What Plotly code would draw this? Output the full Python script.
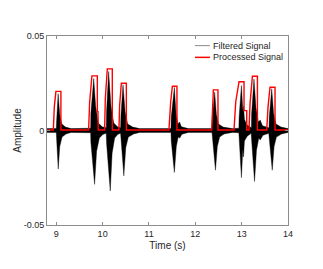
import plotly.graph_objects as go

# Filtered signal: upper and lower envelope of the dense oscillation
hi_t = [8.800,
        9.000, 9.005, 9.040, 9.075, 9.120, 9.200, 9.320,
        9.742, 9.746, 9.808, 9.850, 9.905, 9.990, 10.078,
        10.080, 10.085, 10.130, 10.180, 10.240, 10.320, 10.388,
        10.390, 10.395, 10.440, 10.485, 10.540, 10.650, 10.800,
        11.475, 11.480, 11.548, 11.585, 11.625, 11.660, 11.700, 11.850,
        12.360, 12.365, 12.418, 12.455, 12.500, 12.600, 12.800,
        12.940, 12.945, 12.995, 13.025, 13.040, 13.060, 13.110, 13.205,
        13.210, 13.215, 13.266, 13.310, 13.360, 13.400, 13.450, 13.585,
        13.590, 13.595, 13.649, 13.690, 13.740, 13.850, 14.000]
hi_v = [0.0010,
        0.0010, 0.0040, 0.0195, 0.0085, 0.0035, 0.0018, 0.0010,
        0.0012, 0.0090, 0.0275, 0.0130, 0.0040, 0.0020, 0.0015,
        0.0015, 0.0100, 0.0312, 0.0130, 0.0040, 0.0020, 0.0015,
        0.0015, 0.0080, 0.0242, 0.0100, 0.0035, 0.0018, 0.0010,
        0.0010, 0.0070, 0.0228, 0.0090, 0.0035, 0.0045, 0.0020, 0.0010,
        0.0010, 0.0065, 0.0203, 0.0085, 0.0035, 0.0018, 0.0010,
        0.0012, 0.0070, 0.0238, 0.0110, 0.0130, 0.0060, 0.0030, 0.0015,
        0.0015, 0.0090, 0.0272, 0.0120, 0.0045, 0.0055, 0.0025, 0.0015,
        0.0015, 0.0070, 0.0221, 0.0090, 0.0035, 0.0018, 0.0010]
lo_t = [8.800,
        9.000, 9.008, 9.042, 9.075, 9.125, 9.210, 9.320,
        9.742, 9.746, 9.827, 9.870, 9.930, 10.010, 10.078,
        10.080, 10.086, 10.165, 10.205, 10.260, 10.330, 10.388,
        10.390, 10.396, 10.458, 10.500, 10.555, 10.670, 10.800,
        11.475, 11.481, 11.548, 11.590, 11.630, 11.665, 11.710, 11.850,
        12.360, 12.366, 12.435, 12.475, 12.525, 12.620, 12.800,
        12.940, 12.946, 12.995, 13.025, 13.040, 13.060, 13.120, 13.205,
        13.210, 13.216, 13.278, 13.320, 13.370, 13.400, 13.460, 13.585,
        13.590, 13.596, 13.660, 13.700, 13.750, 13.860, 14.000]
lo_v = [-0.0010,
        -0.0010, -0.0045, -0.0204, -0.0085, -0.0035, -0.0018, -0.0010,
        -0.0012, -0.0060, -0.0285, -0.0110, -0.0040, -0.0020, -0.0015,
        -0.0015, -0.0070, -0.0320, -0.0120, -0.0040, -0.0020, -0.0015,
        -0.0015, -0.0060, -0.0240, -0.0090, -0.0035, -0.0018, -0.0010,
        -0.0010, -0.0055, -0.0222, -0.0085, -0.0035, -0.0040, -0.0020, -0.0010,
        -0.0010, -0.0050, -0.0210, -0.0085, -0.0035, -0.0018, -0.0010,
        -0.0012, -0.0055, -0.0250, -0.0100, -0.0140, -0.0055, -0.0030, -0.0015,
        -0.0015, -0.0065, -0.0270, -0.0105, -0.0040, -0.0050, -0.0025, -0.0015,
        -0.0015, -0.0055, -0.0210, -0.0085, -0.0035, -0.0018, -0.0010]

# Processed signal (red pulses)
proc_t = [8.800, 8.936, 8.958, 8.992, 9.100, 9.100,
          9.698, 9.720, 9.769, 9.886, 9.886, 9.900, 9.905,
          10.043, 10.058, 10.101, 10.209, 10.209,
          10.352, 10.367, 10.404, 10.512, 10.512,
          11.431, 11.468, 11.505, 11.604, 11.604,
          12.353, 12.368, 12.390, 12.489, 12.489,
          12.835, 12.872, 12.943, 13.051, 13.051, 13.109, 13.109,
          13.159, 13.181, 13.232, 13.340, 13.340,
          13.541, 13.569, 13.612, 13.720, 13.720, 14.000]
proc_v = [0.0003, 0.0003, 0.0125, 0.0207, 0.0207, 0.0003,
          0.0003, 0.0149, 0.0289, 0.0289, 0.0100, 0.0100, 0.0003,
          0.0003, 0.0167, 0.0326, 0.0326, 0.0003,
          0.0003, 0.0132, 0.0250, 0.0250, 0.0003,
          0.0003, 0.0151, 0.0234, 0.0234, 0.0003,
          0.0003, 0.0125, 0.0215, 0.0215, 0.0003,
          0.0003, 0.0151, 0.0258, 0.0258, 0.0105, 0.0105, 0.0003,
          0.0003, 0.0142, 0.0287, 0.0287, 0.0003,
          0.0003, 0.0125, 0.0229, 0.0229, 0.0003, 0.0003]

series_names = ["Filtered Signal", "Processed Signal"]
x_ticks = [9, 10, 11, 12, 13, 14]
y_ticks = [-0.05, 0, 0.05]
y_ticktext = ["-0.05", "0", "0.05"]

FONT = "Liberation Sans, Arial, sans-serif"
AX = "#8c8c8c"
TXT = "#262626"
SIG = "#000000"
PROC = "#ff0000"

fig = go.Figure()
fig.add_trace(go.Scatter(
    x=hi_t + lo_t[::-1], y=hi_v + lo_v[::-1],
    mode="lines", fill="toself", fillcolor=SIG, name=series_names[0],
    line=dict(color=SIG, width=0.4),
    showlegend=False, hoverinfo="skip"))
fig.add_trace(go.Scatter(
    x=proc_t, y=proc_v, mode="lines", name=series_names[1],
    line=dict(color=PROC, width=1.4), showlegend=False))

axis_common = dict(
    showline=True, linecolor=AX, linewidth=1, mirror="ticks",
    ticks="inside", ticklen=3, tickcolor=AX, tickwidth=1,
    showgrid=False, zeroline=False,
    tickfont=dict(family=FONT, size=9, color=TXT),
)
fig.update_xaxes(range=[8.8, 14], tickvals=x_ticks, **axis_common,
                 title=dict(text="Time (s)", font=dict(family=FONT, size=10, color=TXT), standoff=4))
fig.update_yaxes(range=[-0.05, 0.05], tickvals=y_ticks, ticktext=y_ticktext, **axis_common,
                 title=dict(text="Amplitude", font=dict(family=FONT, size=10, color=TXT), standoff=0))

# Legend (drawn in the plot's upper right, MATLAB-style short samples)
legend_rows_y = [0.949, 0.887]
legend_colors = ["#8a8a8a", PROC]
legend_widths = [1, 1.5]
for name, ly, col, lw in zip(series_names, legend_rows_y, legend_colors, legend_widths):
    fig.add_shape(type="line", xref="paper", yref="paper",
                  x0=0.614, x1=0.676, y0=ly, y1=ly,
                  line=dict(color=col, width=lw))
    fig.add_annotation(text=name, xref="paper", yref="paper", x=0.679, y=ly,
                       xanchor="left", yanchor="middle", showarrow=False,
                       font=dict(family=FONT, size=9, color=TXT))

fig.update_layout(
    width=315, height=261,
    margin=dict(l=39, r=35, t=28, b=44, autoexpand=False),
    paper_bgcolor="white", plot_bgcolor="white",
    font=dict(family=FONT, size=9, color=TXT),
    showlegend=False,
)
fig.write_html("out.html")
